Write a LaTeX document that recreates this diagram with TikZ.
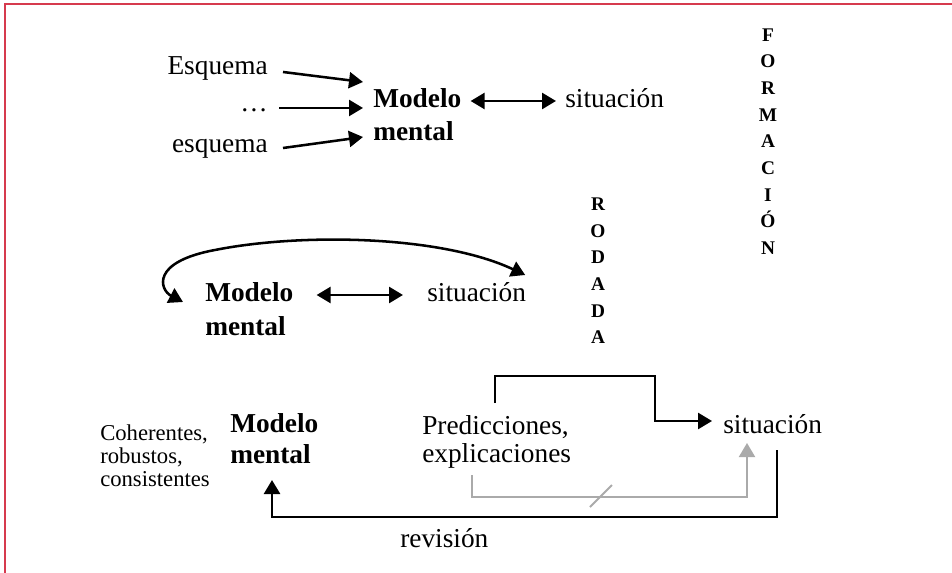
\documentclass[tikz,border=0pt]{standalone}
\usepackage{fontspec}
\setmainfont{Liberation Serif}
\usetikzlibrary{arrows.meta}
\definecolor{framered}{RGB}{214,58,78}
\definecolor{arrgray}{RGB}{170,170,170}
\begin{document}
\begin{tikzpicture}[x=0.75pt,y=-0.75pt,
  txt/.style={inner sep=0pt, font=\fontsize{20.5}{24}\selectfont},
  bld/.style={inner sep=0pt, font=\bfseries\fontsize{20.5}{24}\selectfont},
  small/.style={inner sep=0pt, font=\fontsize{17}{17}\selectfont},
  vlet/.style={inner sep=0pt, align=center, font=\bfseries\fontsize{14.5}{20}\selectfont},
  tip/.tip={Triangle[length=10.5pt,width=12pt]},
  arr/.style={line width=1.9pt, -tip},
  dbl/.style={line width=1.9pt, tip-tip},
  garr/.style={arrgray, line width=1.5pt, -tip},
]
\useasboundingbox (0,0) rectangle (952,573);
% frame
\draw[framered, line width=1.5pt] (4.5,573) -- (4.5,4) -- (952,4);

% ---- top block: formation
\node[txt, anchor=base east] (esq1) at (268,75) {Esquema};
\node[txt, anchor=base east] (dots) at (268,112) {…};
\node[txt, anchor=base east] (esq2) at (268,153) {esquema};
\node[bld, anchor=base west] (mm1a) at (373,108) {Modelo};
\node[bld, anchor=base west] (mm1b) at (373,141) {mental};
\node[txt, anchor=base west] (sit1) at (565,108) {situación};

\draw[arr] ([shift={(15,-3)}]esq1.base east) -- ([shift={(-10,-26)}]mm1a.base west);
\draw[arr] ([shift={(11,-4)}]dots.base east) -- ([shift={(-10,0)}]mm1a.base west);
\draw[arr] ([shift={(15,-5)}]esq2.base east) -- ([shift={(-10,-4)}]mm1b.base west);
\draw[dbl] ([shift={(9,-7)}]mm1a.base east) -- ([shift={(-9,-7)}]sit1.base west);

% ---- middle block: rodada
\node[bld, anchor=base west] (mm2a) at (205,302) {Modelo};
\node[bld, anchor=base west] (mm2b) at (205,335) {mental};
\node[txt, anchor=base west] (sit2) at (427,302) {situación};
\draw[dbl] ([shift={(23,-7)}]mm2a.base east) -- ([shift={(-24,-7)}]sit2.base west);
\draw[dbl] ([shift={(-22,0)}]mm2a.base west) .. controls (160,290) and (150,262) .. (215,250)
  .. controls (300,233) and (440,235) .. ([shift={(-1,-27)}]sit2.base east);

% ---- vertical labels
\node[vlet] (formacion) at (768,141.5) {F\\O\\R\\M\\A\\C\\I\\Ó\\N};
\node[vlet] (rodada) at (598,271) {R\\O\\D\\A\\D\\A};

% ---- bottom block
\node[small, anchor=base west] (coh1) at (100,440) {Coherentes,};
\node[small, anchor=base west] (coh2) at (100,463) {robustos,};
\node[small, anchor=base west] (coh3) at (100,486) {consistentes};
\node[bld, anchor=base west] (mm3a) at (230,432) {Modelo};
\node[bld, anchor=base west] (mm3b) at (230,463) {mental};
\node[txt, anchor=base west] (pred) at (422,434) {Predicciones,};
\node[txt, anchor=base west] (expl) at (422,462) {explicaciones};
\node[txt, anchor=base west] (sit3) at (723,433) {situación};
\node[txt, anchor=base west] (rev) at (400,547) {revisión};

\draw[arr] ([shift={(73,-31)}]pred.base west) -- ++(0,-27) -- ++(160,0)
  |- ([shift={(-11,-12)}]sit3.base west);
\draw[garr] ([shift={(50,13)}]expl.base west) -- ++(0,22)
  -- coordinate[pos=0.469] (cut) ++(275,0) -- ([shift={(24,10)}]sit3.base west);
\draw[arrgray, line width=1.5pt] ([shift={(-11,10)}]cut) -- ([shift={(11,-12)}]cut);
\draw[arr] ([shift={(54,17)}]sit3.base west) -- ++(0,67) -| ([shift={(42,17)}]mm3b.base west);
\end{tikzpicture}
\end{document}
